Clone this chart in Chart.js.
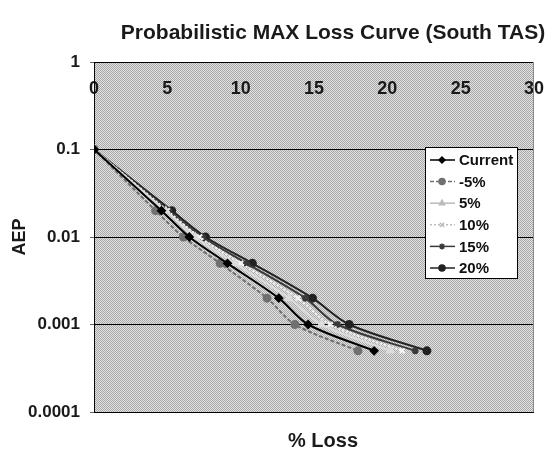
<!DOCTYPE html>
<html>
<head>
<meta charset="utf-8">
<script src="https://cdn.jsdelivr.net/npm/chart.js@4"></script>
<style>
  html, body { margin: 0; padding: 0; background: #fff; }
  #wrap { width: 560px; height: 459px; }
</style>
</head>
<body>
<div id="wrap"><canvas id="lossChart"></canvas></div>
<script>
const aep = [0.1, 0.02, 0.01, 0.005, 0.002, 0.001, 0.0005];
const lossMinus5 = [0, 4.2, 6.1, 8.6, 11.8, 13.7, 18.0];
const lossCurrent = [0, 4.6, 6.5, 9.1, 12.6, 14.6, 19.1];
const loss5 = [0, 4.9, 6.9, 9.6, 13.3, 15.5, 20.2];
const loss10 = [0, 5.0, 7.2, 10.0, 13.9, 16.1, 21.0];
const loss15 = [0, 5.1, 7.4, 10.4, 14.4, 16.6, 21.9];
const loss20 = [0, 5.3, 7.6, 10.8, 14.9, 17.4, 22.7];
const yTicks = [0.0001, 0.001, 0.01, 0.1, 1];

const FONT = '"Liberation Sans", Arial, sans-serif';

function pts(loss) {
  return loss.map((v, i) => ({ x: v, y: aep[i] }));
}

function series(label, loss, color, style, dash) {
  return {
    label: label,
    data: pts(loss),
    showLine: true,
    borderColor: color,
    backgroundColor: color,
    borderWidth: 2,
    borderDash: dash || [],
    tension: 0.3,
    pointStyle: style,
    pointRadius: 3.5,
    pointBorderColor: color,
    pointBackgroundColor: color,
  };
}

const datasets = [
  series('Current', lossCurrent, '#000000', 'rectRot'),
  series('-5%', lossMinus5, '#707070', 'circle', [4, 2]),
  series('5%', loss5, '#dcdcdc', 'triangle'),
  series('10%', loss10, '#f4f4f4', 'crossRot', [2, 2]),
  series('15%', loss15, '#3a3a3a', 'star'),
  series('20%', loss20, '#222222', 'circle'),
];

// dotted gray plot background
function makePattern(ctx) {
  const c = document.createElement('canvas');
  c.width = 2; c.height = 2;
  const g = c.getContext('2d');
  g.fillStyle = '#e2e2e2'; g.fillRect(0, 0, 2, 2);
  g.fillStyle = '#a8a8a8'; g.fillRect(0, 0, 1, 1); g.fillRect(1, 1, 1, 1);
  return ctx.createPattern(c, 'repeat');
}

const decor = {
  id: 'decor',
  beforeDraw(chart) {
    const { ctx, chartArea: a } = chart;
    ctx.save();
    ctx.fillStyle = makePattern(ctx);
    ctx.fillRect(a.left, a.top, a.right - a.left, a.bottom - a.top);
    ctx.restore();
  },
  afterDraw(chart) {
    const { ctx, chartArea: a } = chart;
    ctx.save();
    // right border
    ctx.strokeStyle = '#888';
    ctx.lineWidth = 1;
    ctx.beginPath();
    ctx.moveTo(a.right - 0.5, a.top);
    ctx.lineTo(a.right - 0.5, a.bottom);
    ctx.stroke();

    // title and x axis title
    ctx.fillStyle = '#1a1a1a';
    ctx.textAlign = 'center';
    ctx.textBaseline = 'alphabetic';
    ctx.font = 'bold 21px ' + FONT;
    ctx.fillText('Probabilistic MAX Loss Curve (South TAS)', 333, 39);
    ctx.font = 'bold 20px ' + FONT;
    ctx.textBaseline = 'middle';
    ctx.fillText('% Loss', 323, 441);

    // legend
    const lx = 425, ly = 147, lw = 92, lh = 131;
    ctx.fillStyle = '#fff';
    ctx.fillRect(lx, ly, lw, lh);
    ctx.strokeStyle = '#000';
    ctx.strokeRect(lx + 0.5, ly + 0.5, lw, lh);
    ctx.font = 'bold 15px ' + FONT;
    ctx.textAlign = 'left';
    chart.data.datasets.forEach((ds, i) => {
      const y = ly + 13 + i * 21.6;
      const col = ds.borderColor === '#f4f4f4' || ds.borderColor === '#dcdcdc' ? '#bbb' : ds.borderColor;
      ctx.strokeStyle = col;
      ctx.lineWidth = 1.5;
      ctx.setLineDash(ds.borderDash);
      ctx.beginPath();
      ctx.moveTo(lx + 5, y);
      ctx.lineTo(lx + 30, y);
      ctx.stroke();
      ctx.setLineDash([]);
      ctx.fillStyle = col;
      Chart.helpers.drawPoint(ctx, { pointStyle: ds.pointStyle, radius: 3, borderWidth: 1 }, lx + 17, y);
      ctx.fillStyle = '#111';
      ctx.fillText(ds.label, lx + 34, y + 1);
    });
    ctx.restore();
  },
};

new Chart(document.getElementById('lossChart'), {
  type: 'scatter',
  data: { datasets: datasets },
  plugins: [decor],
  options: {
    responsive: true,
    maintainAspectRatio: false,
    animation: false,
    layout: { padding: { top: 62, bottom: 47, right: 12, left: 0 } },
    plugins: {
      legend: { display: false },
      tooltip: { enabled: false },
    },
    scales: {
      x: {
        type: 'linear',
        position: 'top',
        min: 0,
        max: 30,
        afterFit(scale) { scale.height = 0; },
        ticks: {
          stepSize: 5,
          mirror: true,
          padding: 16,
          color: '#1a1a1a',
          font: { family: FONT, size: 18, weight: 'bold' },
        },
        grid: { display: false },
        border: { display: true, color: '#000', width: 1 },
      },
      y: {
        type: 'logarithmic',
        min: 0.0001,
        max: 1,
        afterFit(scale) { scale.width = 94; },
        afterBuildTicks(scale) {
          scale.ticks = yTicks.map(v => ({ value: v, major: true }));
        },
        ticks: {
          color: '#1a1a1a',
          padding: 10,
          font: { family: FONT, size: 17, weight: 'bold' },
          callback: v => String(v),
        },
        grid: { color: '#000', lineWidth: 1, tickLength: 4, tickColor: '#666' },
        border: { display: true, color: '#000', width: 1 },
        title: {
          display: true,
          text: 'AEP',
          color: '#1a1a1a',
          padding: { top: 9, bottom: 0 },
          font: { family: FONT, size: 18, weight: 'bold' },
        },
      },
    },
  },
});
</script>
</body>
</html>
